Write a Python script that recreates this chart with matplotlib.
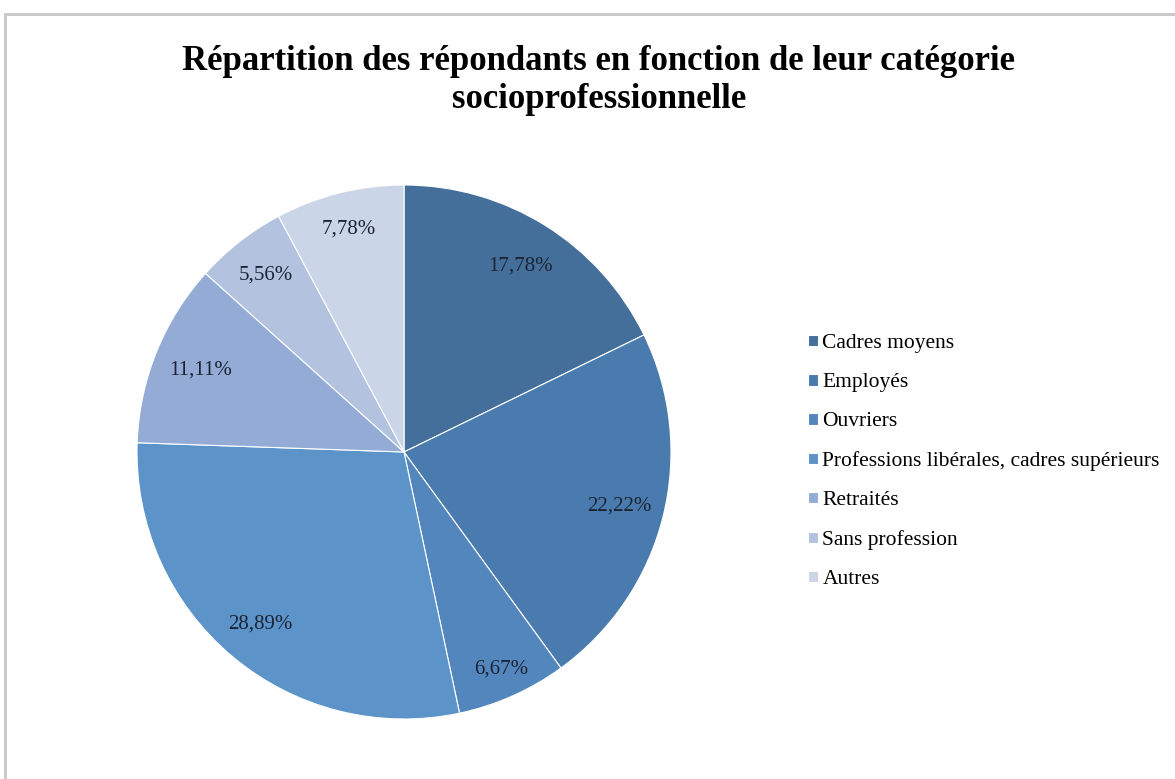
#!/usr/bin/env python3

import numpy as np
import matplotlib.pyplot as plt
from matplotlib.patches import Rectangle

# Data
categories = ['Cadres moyens', 'Employés', 'Ouvriers',
              'Professions libérales, cadres supérieurs',
              'Retraités', 'Sans profession', 'Autres']
shares = [17.78, 22.22, 6.67, 28.89, 11.11, 5.56, 7.78]
pct_labels = ['17,78%', '22,22%', '6,67%', '28,89%', '11,11%', '5,56%', '7,78%']

colors = ['#456f9b', '#4a7bae', '#5386bd', '#5c93c9', '#94acd5', '#b3c2df', '#cbd5e8']
# label distance from centre (fraction of radius), as placed in the original
label_dist = [0.82, 0.83, 0.89, 0.84, 0.82, 0.84, 0.86]

plt.rcParams['font.family'] = ['Liberation Serif', 'DejaVu Serif']

fig = plt.figure(figsize=(11.75, 7.79), dpi=100)
fig.patch.set_facecolor('white')

# grey frame around the chart area
fig.patches.append(Rectangle((5 / 1175, -0.01), 1.02, 1 - 14 / 779 + 0.01,
                             transform=fig.transFigure, fill=False,
                             edgecolor='#c6c6c6', linewidth=2))

ax = fig.add_axes([137 / 1175, 1 - 719 / 779, 534 / 1175, 534 / 779])
wedges, _ = ax.pie(shares, colors=colors, startangle=90, counterclock=False,
                   radius=1, wedgeprops=dict(edgecolor='white', linewidth=0.8))
ax.set_xlim(-1.0, 1.0)
ax.set_ylim(-1.0, 1.0)
ax.axis('off')

for w, lab, d in zip(wedges, pct_labels, label_dist):
    ang = np.deg2rad((w.theta1 + w.theta2) / 2)
    ax.text(d * np.cos(ang), d * np.sin(ang), lab, ha='center', va='center',
            fontsize=15, color='#1a2433')

fig.text(599 / 1175, 1 - 62 / 779, 'Répartition des répondants en fonction de leur catégorie',
         ha='center', va='center', fontsize=25, fontweight='bold')
fig.text(599 / 1175, 1 - 100 / 779, 'socioprofessionnelle',
         ha='center', va='center', fontsize=25, fontweight='bold')

leg = fig.legend(wedges, categories, loc='upper left',
                 bbox_to_anchor=(789 / 1175, 1 - 315 / 779),
                 frameon=False, fontsize=15.5, handlelength=0.45, handleheight=0.45,
                 handletextpad=0.2, labelspacing=0.93)

fig.savefig('out.png', dpi=100)
